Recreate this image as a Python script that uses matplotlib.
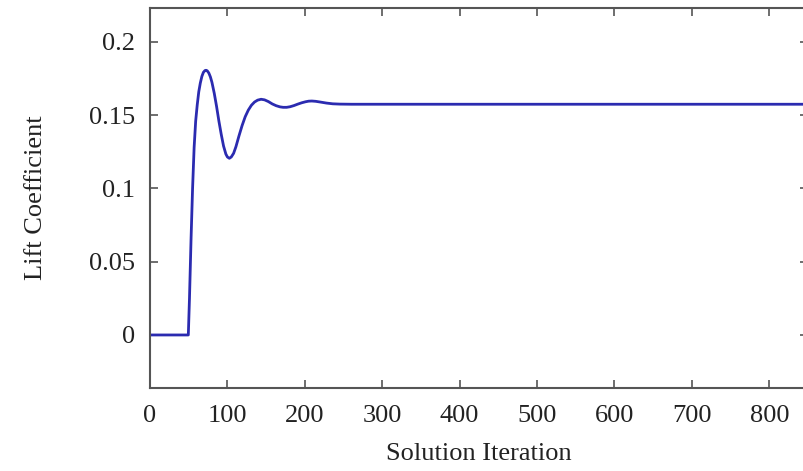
import matplotlib
matplotlib.use("Agg")
import matplotlib.pyplot as plt

iterations = [0, 48, 49.5, 51, 53, 55, 57, 59, 61, 63, 65, 67, 69, 71, 72.5, 74, 76, 78, 80,
              83, 86, 89, 92, 95, 98, 100, 102.5, 105, 108, 111, 115, 119, 123, 127, 131,
              135, 139, 143.5, 148, 153, 158, 163, 168, 172, 176.5, 181, 186, 191, 196, 201,
              205, 209, 214, 220, 228, 236, 245, 260, 300, 400, 500, 600, 700, 800, 850]
lift = [0.0, 0.0, 0.0, 0.025, 0.065, 0.100, 0.128, 0.146, 0.157, 0.166, 0.172, 0.1765, 0.1793,
        0.1805, 0.1807, 0.1803, 0.1788, 0.1762, 0.1725, 0.165, 0.156, 0.146, 0.137, 0.129,
        0.1235, 0.1215, 0.1206, 0.1215, 0.124, 0.1285, 0.136, 0.143, 0.149, 0.1535, 0.1568,
        0.159, 0.1603, 0.1609, 0.1605, 0.1593, 0.1577, 0.1565, 0.1557, 0.1554, 0.1554,
        0.1558, 0.1566, 0.1576, 0.1585, 0.1592, 0.1596, 0.1597, 0.1595, 0.159, 0.1583,
        0.1578, 0.1576, 0.1575, 0.1575, 0.1575, 0.1575, 0.1575, 0.1575, 0.1575, 0.1575]

xticks = [0, 100, 200, 300, 400, 500, 600, 700, 800]
yticks = [0, 0.05, 0.1, 0.15, 0.2]
ytick_labels = ["0", "0.05", "0.1", "0.15", "0.2"]

plt.rcParams['font.family'] = ['Liberation Serif', 'DejaVu Serif']

fig = plt.figure(figsize=(8.04, 4.71), dpi=100)
ax = fig.add_axes([150/804, 83/471, 658/804, 380/471])
ax.plot(iterations, lift, color='#2b2bb0', linewidth=2.0, solid_joinstyle='round',
        solid_capstyle='round')
ax.set_xlim(0, 850)
ax.set_ylim(-0.0362, 0.2232)
ax.set_xticks(xticks)
ax.set_yticks(yticks)
ax.set_yticklabels(ytick_labels)
ax.tick_params(direction='in', top=True, right=True, length=6, width=1.2,
               color='#555555', labelsize=19, labelcolor='#222222')
ax.tick_params(axis='x', pad=12)
ax.tick_params(axis='y', pad=11)
for s in ax.spines.values():
    s.set_color('#555555')
    s.set_linewidth(1.5)
ax.set_xlabel('Solution Iteration', fontsize=19, color='#222222', labelpad=12)
ax.set_ylabel('Lift Coefficient', fontsize=19, color='#222222', labelpad=30)
fig.savefig('out.png', dpi=100)
